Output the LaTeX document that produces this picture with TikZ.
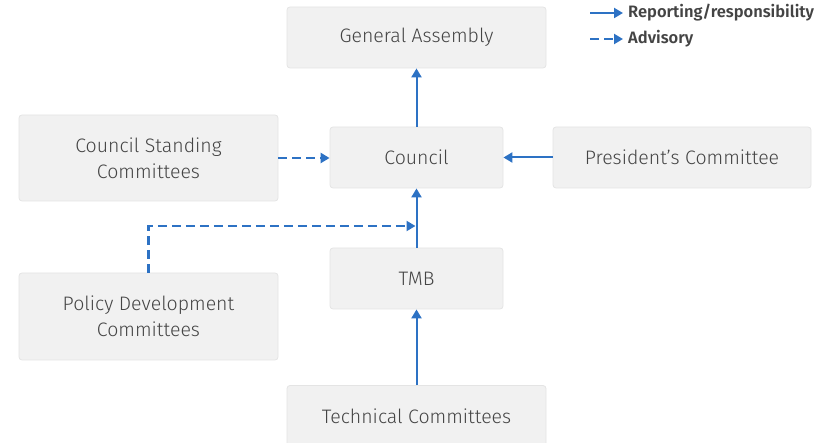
\documentclass[tikz,border=0pt]{standalone}
\usepackage{fontspec}
\setmainfont{Fira Sans}[UprightFont=* Light, BoldFont=* SemiBold]
\usetikzlibrary{arrows.meta}
\definecolor{arrowblue}{HTML}{2D72C4}
\definecolor{boxfill}{HTML}{F1F1F1}
\definecolor{boxline}{HTML}{E4E4E4}
\definecolor{txt}{HTML}{444444}
\begin{document}
\begin{tikzpicture}[x=1pt,y=-1pt,
  orgbox/.style={draw=boxline, fill=boxfill, rounded corners=3pt, line width=0.8pt,
    text=txt, font=\fontsize{19.5}{26}\selectfont, align=center, inner sep=0pt},
  rep/.style={draw=arrowblue, line width=2pt, -{Triangle[length=9pt,width=10pt]}},
  adv/.style={rep, line width=2.5pt, dash pattern=on 9pt off 5pt},
  legtext/.style={font=\bfseries\fontsize{16.5}{18}\selectfont, text=txt, anchor=west, inner sep=0pt}
]
\useasboundingbox (0,0) rectangle (825,443);
\node[orgbox, minimum width=259pt, minimum height=61pt] (ga) at (416.5,37.5) {General Assembly};
\node[orgbox, minimum width=259pt, minimum height=86pt] (csc) at (148.5,158) {Council Standing\\Committees};
\node[orgbox, minimum width=173pt, minimum height=61pt] (council) at (416.5,157.5) {Council};
\node[orgbox, minimum width=258pt, minimum height=61pt] (pc) at (682,157.5) {President’s Committee};
\node[orgbox, minimum width=173pt, minimum height=61pt] (tmb) at (416.5,278.5) {TMB};
\node[orgbox, minimum width=259pt, minimum height=87pt] (pdc) at (148.5,316.5) {Policy Development\\Committees};
\node[orgbox, minimum width=259pt, minimum height=61pt] (tc) at (416.5,416) {Technical Committees};

\draw[rep] (council.north) -- (ga.south);
\draw[rep] (tmb.north) -- (council.south);
\draw[rep] (tc.north) -- (tmb.south);
\draw[rep] (pc.west) -- (council.west -| council.east);
\draw[adv] (csc.east) -- (csc.east -| council.west);
\coordinate (pdcturn) at (148.5,226);
\coordinate (pdcend) at (415.5,226);
\draw[adv] (pdc.north) -- (pdcturn) -- (pdcend);

\coordinate (l1a) at (590,13);
\coordinate (l1b) at (623,13);
\coordinate (l2a) at (590,39);
\coordinate (l2b) at (623,39);
\draw[rep] (l1a) -- (l1b);
\draw[adv] (l2a) -- (l2b);
\node[legtext] (leg1) at (628,13) {Reporting/responsibility};
\node[legtext] (leg2) at (628,39) {Advisory};
\end{tikzpicture}
\end{document}
